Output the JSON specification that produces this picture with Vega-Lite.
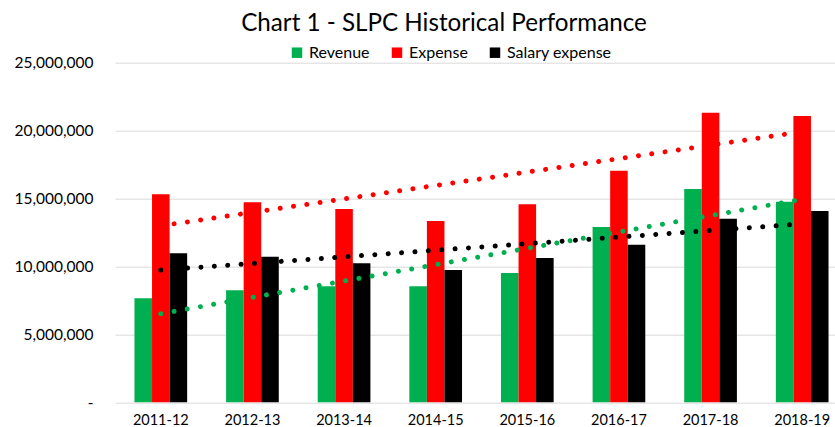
{
  "$schema": "https://vega.github.io/schema/vega-lite/v6.json",
  "autosize": "none",
  "width": 720,
  "height": 339.6,
  "padding": {"left": 115, "top": 62.7, "right": 0, "bottom": 24.7},
  "background": "white",
  "config": {"view": {"stroke": null}, "font": "Lato"},
  "title": {
    "text": "Chart 1 - SLPC Historical Performance",
    "fontSize": 24.2,
    "fontWeight": "normal",
    "font": "Lato",
    "color": "#000000",
    "anchor": "middle",
    "frame": "group",
    "dx": -31,
    "baseline": "alphabetic",
    "offset": -10
  },
  "data": {
    "values": [
      {"year": "2011-12", "idx": 0, "series": "Revenue", "value": 7660000},
      {"year": "2011-12", "idx": 0, "series": "Expense", "value": 15310000},
      {"year": "2011-12", "idx": 0, "series": "Salary expense", "value": 10970000},
      {"year": "2012-13", "idx": 1, "series": "Revenue", "value": 8240000},
      {"year": "2012-13", "idx": 1, "series": "Expense", "value": 14720000},
      {"year": "2012-13", "idx": 1, "series": "Salary expense", "value": 10720000},
      {"year": "2013-14", "idx": 2, "series": "Revenue", "value": 8540000},
      {"year": "2013-14", "idx": 2, "series": "Expense", "value": 14230000},
      {"year": "2013-14", "idx": 2, "series": "Salary expense", "value": 10230000},
      {"year": "2014-15", "idx": 3, "series": "Revenue", "value": 8540000},
      {"year": "2014-15", "idx": 3, "series": "Expense", "value": 13350000},
      {"year": "2014-15", "idx": 3, "series": "Salary expense", "value": 9740000},
      {"year": "2015-16", "idx": 4, "series": "Revenue", "value": 9520000},
      {"year": "2015-16", "idx": 4, "series": "Expense", "value": 14580000},
      {"year": "2015-16", "idx": 4, "series": "Salary expense", "value": 10620000},
      {"year": "2016-17", "idx": 5, "series": "Revenue", "value": 12900000},
      {"year": "2016-17", "idx": 5, "series": "Expense", "value": 17050000},
      {"year": "2016-17", "idx": 5, "series": "Salary expense", "value": 11600000},
      {"year": "2017-18", "idx": 6, "series": "Revenue", "value": 15700000},
      {"year": "2017-18", "idx": 6, "series": "Expense", "value": 21320000},
      {"year": "2017-18", "idx": 6, "series": "Salary expense", "value": 13520000},
      {"year": "2018-19", "idx": 7, "series": "Revenue", "value": 14770000},
      {"year": "2018-19", "idx": 7, "series": "Expense", "value": 21080000},
      {"year": "2018-19", "idx": 7, "series": "Salary expense", "value": 14080000}
    ]
  },
  "layer": [
    {
      "mark": {"type": "bar"},
      "encoding": {
        "x": {
          "field": "year",
          "type": "nominal",
          "sort": null,
          "scale": {"range": [0, 733], "paddingInner": 0.425, "paddingOuter": 0.2125},
          "axis": {
            "title": null,
            "domain": false,
            "ticks": false,
            "grid": false,
            "labelAngle": 0,
            "labelFont": "Lato",
            "labelFontSize": 14.5,
            "labelPadding": 11,
            "labelColor": "#000000"
          }
        },
        "xOffset": {
          "field": "series",
          "type": "nominal",
          "sort": ["Revenue", "Expense", "Salary expense"],
          "scale": {"paddingInner": 0, "paddingOuter": 0}
        },
        "y": {
          "field": "value",
          "type": "quantitative",
          "scale": {"domain": [0, 25000000], "nice": false},
          "axis": {
            "title": null,
            "values": [0, 5000000, 10000000, 15000000, 20000000, 25000000],
            "domain": false,
            "ticks": false,
            "labelPadding": 22,
            "labelFont": "Lato",
            "labelFontSize": 15.5,
            "labelColor": "#000000",
            "gridColor": "#d9d9d9",
            "gridWidth": 1,
            "labelExpr": "datum.value == 0 ? '-\u2007' : format(datum.value, ',')"
          }
        },
        "color": {
          "field": "series",
          "type": "nominal",
          "sort": ["Revenue", "Expense", "Salary expense"],
          "scale": {
            "domain": ["Revenue", "Expense", "Salary expense"],
            "range": ["#00B050", "#FF0000", "#000000"]
          },
          "legend": {
            "title": null,
            "orient": "none",
            "legendX": 174,
            "legendY": -18,
            "direction": "horizontal",
            "symbolType": "square",
            "symbolSize": 110,
            "symbolStrokeWidth": 0,
            "labelFont": "Lato",
            "labelFontSize": 16,
            "labelOffset": 4,
            "columnPadding": 19,
            "labelColor": "#000000"
          }
        }
      }
    },
    {
      "transform": [{"regression": "value", "on": "idx", "groupby": ["series"]}],
      "mark": {"type": "line", "strokeDash": [0.01, 13.4], "strokeCap": "round", "strokeWidth": 5},
      "encoding": {
        "x": {
          "field": "idx",
          "type": "quantitative",
          "scale": {"domain": [-0.5, 7.5], "range": [0, 733], "nice": false, "zero": false},
          "axis": null
        },
        "y": {"field": "value", "type": "quantitative"},
        "stroke": {
          "field": "series",
          "type": "nominal",
          "scale": {
            "domain": ["Revenue", "Expense", "Salary expense"],
            "range": ["#00B050", "#FF0000", "#000000"]
          },
          "legend": null
        }
      }
    }
  ],
  "resolve": {"scale": {"x": "independent"}}
}
